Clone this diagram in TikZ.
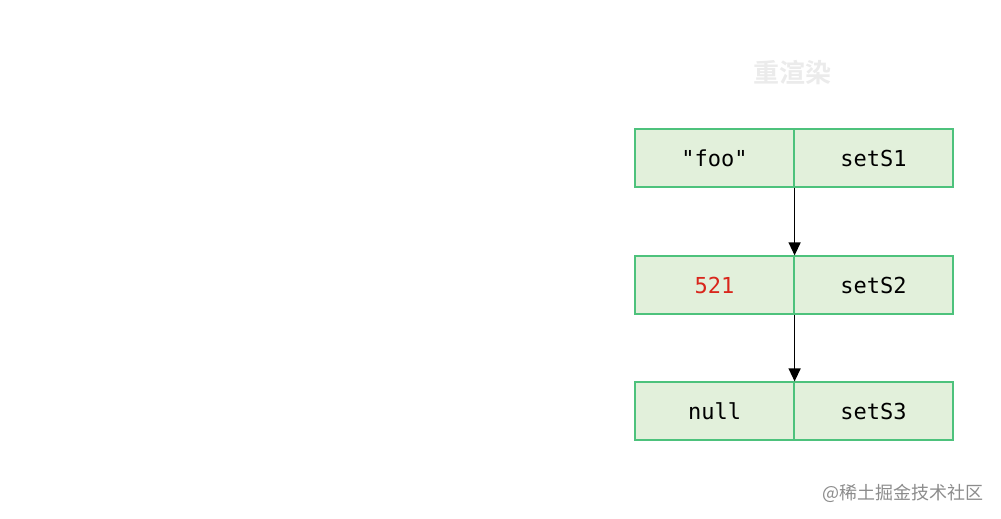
\documentclass[tikz,border=0pt]{standalone}
\usepackage{fontspec}
\setmonofont{DejaVu Sans Mono}
\newfontfamily\cjk{Noto Sans CJK SC}
\newfontfamily\cjkbold{Noto Sans CJK SC Bold}
\usetikzlibrary{arrows.meta}
\definecolor{cellfill}{HTML}{E2F0DB}
\definecolor{celldraw}{HTML}{4DC27C}
\definecolor{redtxt}{HTML}{D9261C}
\tikzset{
  cell/.style={draw=celldraw, fill=cellfill, line width=1.2pt, minimum width=159pt, minimum height=58pt, inner sep=0pt, font=\ttfamily\fontsize{22}{26}\selectfont, text=black},
  link/.style={draw=black, line width=1.3pt, -{Triangle[length=13pt,width=12pt]}}
}
\begin{document}
\begin{tikzpicture}[x=1pt,y=-1pt]
\useasboundingbox (0,0) rectangle (1001,519);
\node[font=\cjkbold\fontsize{26}{30}\selectfont, text=black!8] (title) at (792,73) {重渲染};
\node[cell] (k1) at (714.5,158) {"foo"};
\node[cell] (v1) at (873.5,158) {setS1};
\node[cell] (k2) at (714.5,285) {\textcolor{redtxt}{521}};
\node[cell] (v2) at (873.5,285) {setS2};
\node[cell] (k3) at (714.5,411) {null};
\node[cell] (v3) at (873.5,411) {setS3};
\draw[link] (k1.south east) -- (k2.north east);
\draw[link] (k2.south east) -- (k3.north east);
\node[font=\cjk\fontsize{18}{22}\selectfont, text=black!45, anchor=east] (wm) at (987,493) {@稀土掘金技术社区};
\end{tikzpicture}
\end{document}
